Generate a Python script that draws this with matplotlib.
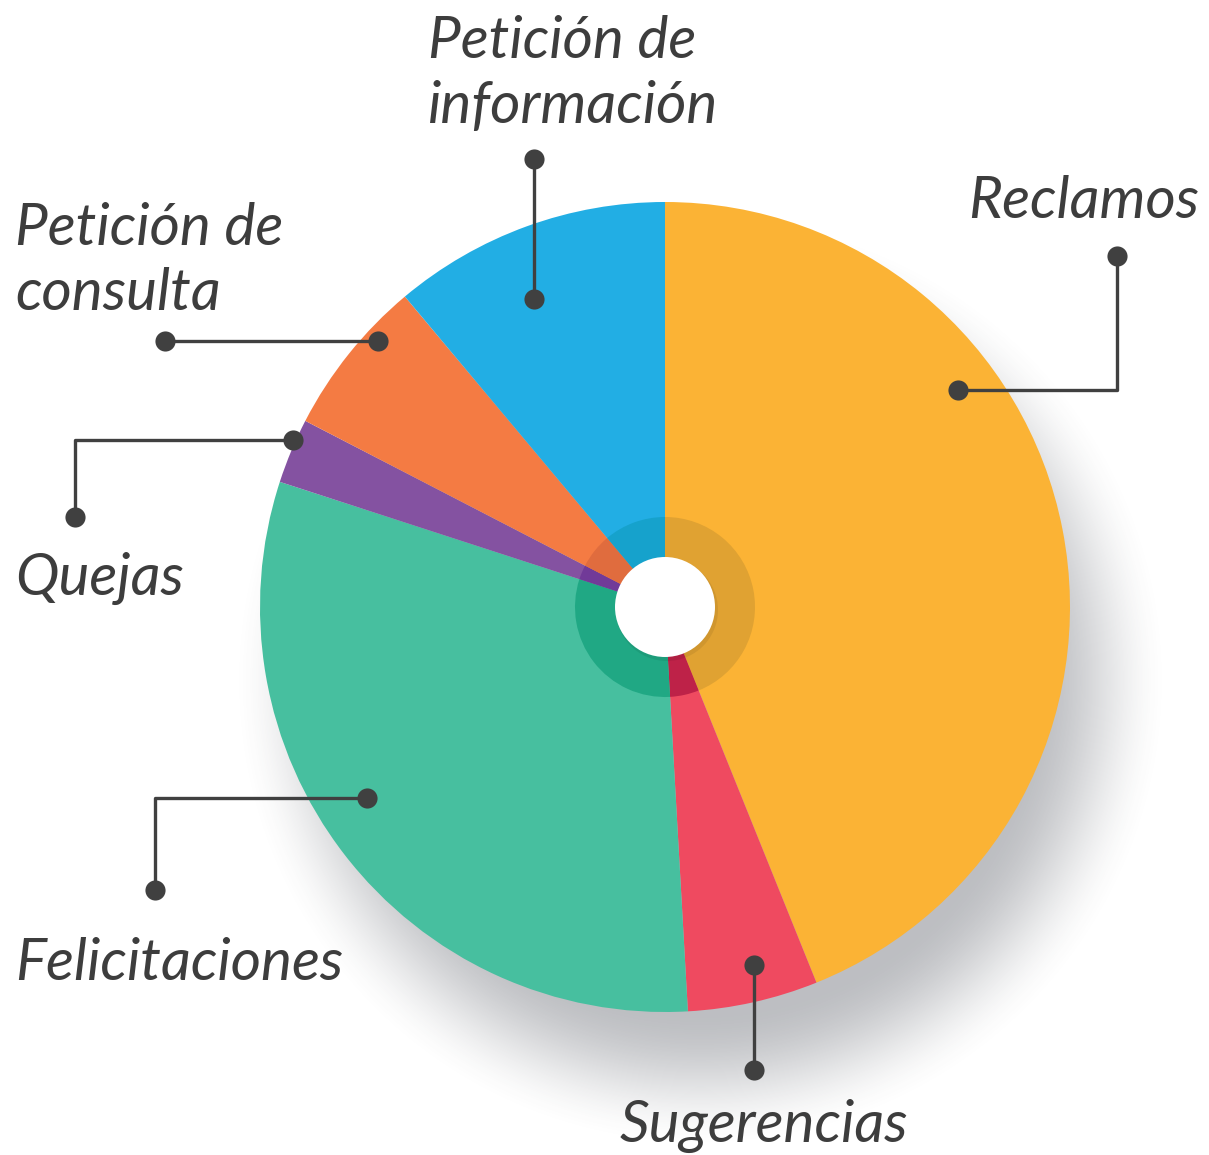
""" Pie chart of request types with leader lines and a soft drop shadow. """

import numpy as np
import matplotlib.pyplot as plt
from matplotlib.patches import Circle

W, H = 1209, 1155

# Slice shares, clockwise from 12 o'clock
categories = ['Reclamos', 'Sugerencias', 'Felicitaciones', 'Quejas',
              'Petición de consulta', 'Petición de información']
shares = [43.9, 5.2, 30.9, 2.6, 6.3, 11.1]
colors = ['#FBB335', '#EF4A60', '#47BF9F', '#8452A1', '#F47B43', '#22AEE4']
# darker tone of each slice used for the inner ring
ring_colors = ['#E0A232', '#BE2248', '#20A884', '#713A98', '#E06C3E', '#16A2CC']

TEXT = '#3d3d3d'
LINE = '#404040'

# Pie geometry in pixel coordinates (y measured from the top)
CX, CY, R = 665, 607, 405


def up(y):
    """ Flip a top-down pixel y into axis coordinates. """
    return H - y


fig = plt.figure(figsize=(W / 100, H / 100), dpi=100)
ax = fig.add_axes([0, 0, 1, 1])

# Blurred drop shadow, offset towards the lower right
yy, xx = np.mgrid[0:H, 0:W]
dist = np.hypot(xx - 700, yy - 680)
t = np.clip((dist - 330) / (470 - 330), 0, 1)
fade = 1 - (3 * t ** 2 - 2 * t ** 3)
shadow = np.zeros((H, W, 4))
shadow[..., 0] = 70 / 255
shadow[..., 1] = 74 / 255
shadow[..., 2] = 84 / 255
shadow[..., 3] = 0.36 * fade
ax.imshow(shadow, extent=(0, W, 0, H), origin='upper', zorder=0)

ax.pie(shares, colors=colors, startangle=90, counterclock=False,
       center=(CX, up(CY)), radius=R, frame=True,
       wedgeprops=dict(linewidth=0, zorder=1))
# inner ring: same shares, darker colours
ax.pie(shares, colors=ring_colors, startangle=90, counterclock=False,
       center=(CX, up(CY)), radius=90, frame=True,
       wedgeprops=dict(linewidth=0, zorder=2))
ax.set_xlim(0, W)
ax.set_ylim(0, H)
ax.set_aspect('equal')
ax.axis('off')

# White hole with a faint shadow
ax.add_patch(Circle((CX + 2, up(CY + 3)), 51, color='black', alpha=0.07, lw=0, zorder=2))
ax.add_patch(Circle((CX, up(CY)), 50, color='white', lw=0, zorder=3))

# Leader lines: polyline points, dots at both ends
leaders = [
    [(958, 390), (1117, 390), (1117, 256)],
    [(534, 299), (534, 159)],
    [(378, 341), (165, 341)],
    [(293, 440), (75, 440), (75, 517)],
    [(367, 798), (155, 798), (155, 890)],
    [(754, 965), (754, 1070)],
]
for pts in leaders:
    xs = [p[0] for p in pts]
    ys = [up(p[1]) for p in pts]
    ax.plot(xs, ys, color=LINE, lw=2.4, solid_capstyle='butt', zorder=4)
    ax.plot([xs[0], xs[-1]], [ys[0], ys[-1]], 'o', color=LINE,
            markersize=14.5, markeredgewidth=0, zorder=5)

# Label lines: text, left x, baseline y
label_lines = [
    ('Reclamos', 968, 218),
    ('Petición de', 428, 58),
    ('información', 428, 123),
    ('Petición de', 15, 245),
    ('consulta', 15, 310),
    ('Quejas', 15, 595),
    ('Felicitaciones', 15, 980),
    ('Sugerencias', 620, 1142),
]
for txt, x, y in label_lines:
    ax.text(x, up(y), txt, ha='left', va='baseline', fontsize=42,
            fontstyle='italic', family=['Lato', 'DejaVu Sans'], color=TEXT,
            zorder=6)

fig.savefig('out.png', dpi=100)
